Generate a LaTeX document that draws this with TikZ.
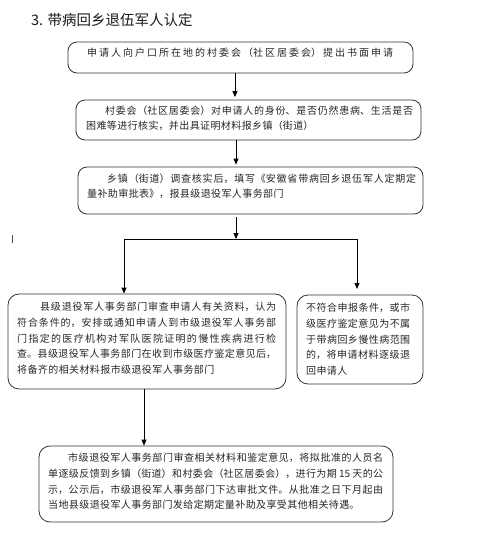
\documentclass[tikz,border=0pt]{standalone}
\usepackage{fontspec}
\setmainfont{Noto Sans CJK SC}
\usetikzlibrary{arrows.meta}
\XeTeXlinebreaklocale "zh"
\XeTeXlinebreakskip=0.4pt plus 3pt minus 0.6pt
\setlength{\parindent}{0pt}
\begin{document}
\begin{tikzpicture}[x=1pt,y=-1pt,
  box/.style={draw=black!80,line width=0.8pt,rounded corners=9pt,inner sep=0pt},
  txt/.style={anchor=north west,inner sep=0pt,align=justify,text=black!85,font=\fontsize{10}{15.6}\selectfont},
  arr/.style={-{Triangle[length=6pt,width=5pt]},line width=0.8pt,black}]
\useasboundingbox (0,0) rectangle (480,558);

\node[anchor=base west,inner sep=0pt,font=\fontsize{14.5}{18}\selectfont,text=black!90] (title) at (31,25.5) {3. 带病回乡退伍军人认定};

\node[box,minimum width=345pt,minimum height=31pt] (b1) at (240.5,57.5) {};
\node[box,minimum width=345pt,minimum height=40pt] (b2) at (248.5,120) {};
\node[box,minimum width=345pt,minimum height=47pt] (b3) at (250.5,190.5) {};
\node[box,minimum width=278pt,minimum height=95pt,rounded corners=11pt] (b4) at (147,341.5) {};
\node[box,minimum width=126pt,minimum height=89pt,rounded corners=11pt] (b5) at (360,339.5) {};
\node[box,minimum width=354pt,minimum height=76pt,rounded corners=11pt] (b6) at (216,484) {};

\node[txt,text width=306pt] (t1) at (87,47.3) {\parfillskip=0pt 申请人向户口所在地的村委会（社区居委会）提出书面申请\par};
\node[txt,text width=327pt,font=\fontsize{10}{15}\selectfont] (t2) at (86,105.3) {\hspace*{19pt}村委会（社区居委会）对申请人的身份、是否仍然患病、生活是否\linebreak 困难等进行核实，并出具证明材料报乡镇（街道）};
\node[txt,text width=329pt,font=\fontsize{10}{15}\selectfont] (t3) at (87,173.3) {\hspace*{20pt}乡镇（街道）调查核实后，填写《安徽省带病回乡退伍军人定期定\linebreak 量补助审批表》，报县级退役军人事务部门};
\node[txt,text width=259pt] (t4) at (17,302.3) {\hspace*{23pt}县级退役军人事务部门审查申请人有关资料，认为\linebreak 符合条件的，安排或通知申请人到市级退役军人事务部\linebreak 门指定的医疗机构对军队医院证明的慢性疾病进行检\linebreak 查。县级退役军人事务部门在收到市级医疗鉴定意见后，\linebreak 将备齐的相关材料报市级退役军人事务部门};
\node[txt,text width=104pt] (t5) at (306,303.3) {不符合申报条件，或市\linebreak 级医疗鉴定意见为不属\linebreak 于带病回乡慢性病范围\linebreak 的，将申请材料逐级退\linebreak 回申请人};
\node[txt,text width=335pt] (t6) at (48,453.3) {\hspace*{20pt}市级退役军人事务部门审查相关材料和鉴定意见，将拟批准的人员名\linebreak 单逐级反馈到乡镇（街道）和村委会（社区居委会），进行为期 15 天的公\linebreak 示，公示后，市级退役军人事务部门下达审批文件。从批准之日下月起由\linebreak 当地县级退役军人事务部门发给定期定量补助及享受其他相关待遇。};

\coordinate (xa) at (235,0);
\coordinate (xb) at (236,0);
\coordinate (xl) at (124,0);
\coordinate (xr) at (357,0);
\coordinate (xd) at (144,0);
\coordinate (j) at (236,239);
\coordinate (jl) at (124,239);
\coordinate (jr) at (357,239);
\coordinate (rend) at (357,289);

\draw[arr,shorten >=2.5pt] (xa |- b1.south) -- (xa |- b2.north);
\draw[arr,shorten >=2pt] (xb |- b2.south) -- (xb |- b3.north);
\draw[arr,shorten <=3pt] (xb |- b3.south) -- (j);
\draw[line width=0.8pt] (jl) -- (jr);
\draw[arr] (jl) -- (xl |- b4.north);
\draw[arr] (jr) -- (rend);
\draw[arr] (xd |- b4.south) -- (xd |- b6.north);

\draw[black!70,line width=0.8pt] (12.7,235) -- (12.7,243);
\end{tikzpicture}
\end{document}
